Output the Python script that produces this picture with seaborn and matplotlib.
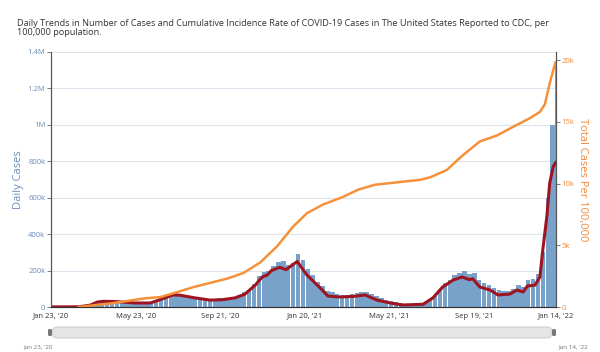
import pandas as pd
import numpy as np
import matplotlib
matplotlib.use('Agg')
import matplotlib.pyplot as plt
from matplotlib.patches import FancyBboxPatch
import seaborn as sns

sns.set_theme(style="white")
plt.rcParams['font.family'] = ['Open Sans', 'DejaVu Sans']

start = pd.Timestamp('2020-01-23')
end = pd.Timestamp('2022-01-14')

# daily cases, one bar per week (thousands)
bar_weeks = pd.date_range(start, periods=104, freq='7D')
bar_cases = [0, 0, 0, 0, 0, 0, 0.5, 3, 15, 25, 33, 35, 33, 34, 30, 28, 26, 25, 24, 24,
             26, 34, 48, 58, 70, 76, 74, 68, 62, 56, 50, 48, 46, 44, 48, 50, 52, 57, 66, 80,
             95, 125, 170, 190, 195, 225, 245, 250, 230, 240, 290, 260, 210, 175, 140, 115, 90, 80, 72, 68,
             66, 72, 76, 80, 80, 70, 60, 52, 40, 33, 25, 20, 17, 16, 16, 18, 24, 40, 60, 95,
             130, 150, 175, 185, 195, 180, 185, 150, 130, 120, 105, 95, 90, 90, 100, 120, 110, 150, 155, 180,
             300, 600, 1000, 1350]

# 7-day average (day offset from Jan 23 '20, thousands)
avg_days = [0, 39, 56, 66, 74, 92, 120, 142, 156, 174, 184, 206, 227, 245, 263, 277, 292, 302,
            309, 315, 327, 336, 352, 366, 385, 396, 413, 432, 449, 466, 485, 503, 525, 532, 546,
            560, 575, 588, 598, 603, 613, 628, 639, 656, 666, 675, 681, 692, 699, 703, 709, 713,
            718, 722]
avg_cases = [0.5, 1, 10, 27, 31, 30, 22, 22, 40, 66, 65, 50, 38, 40, 50, 70, 120, 165,
             175, 200, 218, 205, 250, 175, 104, 60, 55, 58, 66, 38, 22, 11, 14, 15, 50,
             110, 148, 165, 150, 155, 110, 93, 66, 71, 93, 82, 115, 120, 165, 310, 500, 680,
             770, 796]

# cumulative incidence per 100,000 (thousands)
rate_days = [39, 87, 134, 156, 180, 203, 252, 275, 299, 323, 346, 366, 389, 417, 439, 463,
             528, 542, 566, 589, 613, 638, 661, 685, 699, 706, 713, 721]
rate_vals = [0, 0.3, 0.7, 0.8, 1.2, 1.6, 2.3, 2.75, 3.6, 4.9, 6.5, 7.6, 8.3, 8.9, 9.5, 9.9,
             10.3, 10.5, 11.1, 12.3, 13.4, 13.9, 14.6, 15.3, 15.8, 16.4, 18.1, 19.8]

tick_dates = ['2020-01-23', '2020-05-23', '2020-09-21', '2021-01-20', '2021-05-21', '2021-09-19', '2022-01-14']
tick_labels = ["Jan 23, '20", "May 23, '20", "Sep 21, '20", "Jan 20, '21", "May 21, '21", "Sep 19, '21", "Jan 14, '22"]

bars = pd.DataFrame({'date': bar_weeks, 'cases': np.array(bar_cases) * 1000})
avg = pd.DataFrame({'date': start + pd.to_timedelta(avg_days, unit='D'), 'cases': np.array(avg_cases) * 1000})
rate = pd.DataFrame({'date': start + pd.to_timedelta(rate_days, unit='D'), 'rate': np.array(rate_vals) * 1000})

fig = plt.figure(figsize=(6, 3.52), dpi=100)
ax = fig.add_axes([51 / 600, 45 / 352, 505 / 600, 255 / 352])
ax2 = ax.twinx()

ax.bar(bars['date'], bars['cases'], width=6.4, align='edge', color='#78a2c9', linewidth=0, zorder=2)
sns.lineplot(data=avg, x='date', y='cases', ax=ax, color='#9e1420', linewidth=2.2, zorder=3)
sns.lineplot(data=rate, x='date', y='rate', ax=ax2, color='#f5913a', linewidth=1.8)

ax.set_xlim(start, end)
ax.set_ylim(0, 1.4e6)
ax2.set_ylim(0, 20650)

blue_txt = '#6a8bb8'
orange_txt = '#f0893a'

ax.set_yticks(np.arange(0, 1.41e6, 2e5))
ax.set_yticklabels(['0', '200k', '400k', '600k', '800k', '1M', '1.2M', '1.4M'])
ax.yaxis.grid(True, color='#dce4ee', linewidth=0.8)
ax.set_axisbelow(True)
ax.tick_params(axis='y', labelsize=5.5, labelcolor=blue_txt, length=3, width=0.6, color='#666666', pad=1)
ax.set_ylabel('Daily Cases', fontsize=8, color=blue_txt, labelpad=3)

ax2.set_yticks([0, 5000, 10000, 15000, 20000])
ax2.set_yticklabels(['0', '5k', '10k', '15k', '20k'])
ax2.tick_params(axis='y', labelsize=5.5, labelcolor=orange_txt, length=3, width=0.6, color='#666666', pad=1)
ax2.set_ylabel('Total Cases Per 100,000', fontsize=8, color=orange_txt, rotation=270, labelpad=10)

ax.set_xticks(pd.to_datetime(tick_dates))
ax.set_xticklabels(tick_labels)
ax.tick_params(axis='x', labelsize=5.5, labelcolor='#333333', length=3, width=0.6, color='#333333', pad=1)
ax.set_xlabel('')

for a in (ax, ax2):
    a.spines['top'].set_visible(False)
    a.spines['left'].set_color('#555555')
    a.spines['right'].set_color('#555555')
    a.spines['bottom'].set_color('#333333')
    for s in ('left', 'right', 'bottom'):
        a.spines[s].set_linewidth(0.8)

# overlay in pixel coordinates for title and range bar
ov = fig.add_axes([0, 0, 1, 1], zorder=-1)
ov.set_xlim(0, 600)
ov.set_ylim(352, 0)
ov.axis('off')
ov.text(17, 28, "Daily Trends in Number of Cases and Cumulative Incidence Rate of COVID-19 Cases in The United States Reported to CDC, per\n100,000 population.",
        fontsize=6.6, color='#333333', va='center', ha='left', linespacing=1.1)
ov.add_patch(FancyBboxPatch((52, 327), 500, 11, boxstyle='round,pad=0,rounding_size=5.5',
                            fc='#e6e6e6', ec='#cfcfcf', lw=0.8))
ov.add_patch(FancyBboxPatch((48, 329), 4, 7, boxstyle='round,pad=0,rounding_size=1.5', fc='#777777', ec='none'))
ov.add_patch(FancyBboxPatch((552, 329), 4, 7, boxstyle='round,pad=0,rounding_size=1.5', fc='#777777', ec='none'))
ov.text(23, 347, "Jan 23, '20", fontsize=4.5, color='#777777', va='center')
ov.text(558, 347, "Jan 14, '22", fontsize=4.5, color='#777777', va='center')

fig.savefig('out.png', dpi=100)
